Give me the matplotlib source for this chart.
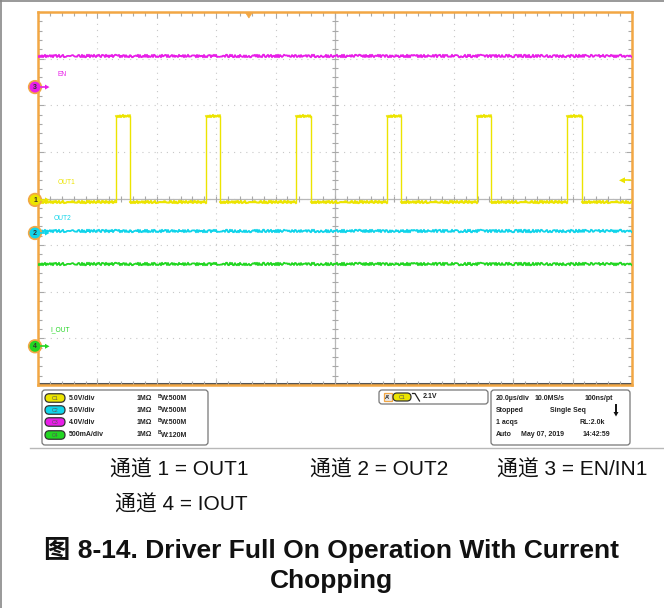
import matplotlib
matplotlib.use('Agg')
import matplotlib.pyplot as plt
from matplotlib.patches import FancyBboxPatch, Circle, Polygon, Rectangle
from matplotlib.ticker import MultipleLocator

# ---------------- data ----------------
time_range_us = [-100.0, 100.0]          # 10 div x 20 us/div
ch1_rise_us = [-73.7, -43.4, -13.1, 17.5, 47.8, 78.1]
ch1_fall_us = [-69.0, -38.7, -8.1, 22.2, 52.5, 83.2]
ch1_low_v = -0.2
ch1_high_v = 9.0
ch2_level_v = 0.25
ch3_level_v = 2.65
ch4_level_a = 0.88
channel_labels = ['OUT1', 'OUT2', 'EN', 'I_OUT']
channel_numbers = ['1', '2', '3', '4']
scale_per_div = [5.0, 5.0, 4.0, 0.5]
scale_labels = ['5.0V/div', '5.0V/div', '4.0V/div', '500mA/div']
bw_labels = ['500M', '500M', '500M', '120M']
offset_div = [-0.03, -0.74, 2.39, -3.17]
trigger_level_v = 2.1
trigger_time_us = -29.0
info_lines = [['20.0\u00b5s/div', '10.0MS/s', '100ns/pt'],
              ['Stopped', 'Single Seq'],
              ['1 acqs', 'RL:2.0k'],
              ['Auto', 'May 07, 2019', '14:42:59']]
caption_items = ['通道 1 = OUT1', '通道 2 = OUT2', '通道 3 = EN/IN1', '通道 4 = IOUT']
title_lines = ['图 8-14. Driver Full On Operation With Current', 'Chopping']

colors = ['#ece400', '#10d4ea', '#e81ee8', '#22d622']
orange = '#f2a744'

W, H = 664, 608
fig = plt.figure(figsize=(W / 100, H / 100), dpi=100)
fig.patch.set_facecolor('white')

# background axes in pixel coordinates
bg = fig.add_axes([0, 0, 1, 1], zorder=0)
bg.set_xlim(0, W)
bg.set_ylim(H, 0)
bg.axis('off')

# ---------------- scope screen ----------------
L, T, R, B = 38, 12, 632, 385
ax = fig.add_axes([L / W, 1 - B / H, (R - L) / W, (B - T) / H], zorder=1)
ax.set_xlim(*time_range_us)
ax.set_ylim(-4, 4)
for s in ax.spines.values():
    s.set_color(orange)
    s.set_linewidth(1.8)
ax.xaxis.set_major_locator(MultipleLocator(20))
ax.xaxis.set_minor_locator(MultipleLocator(4))
ax.yaxis.set_major_locator(MultipleLocator(1))
ax.yaxis.set_minor_locator(MultipleLocator(0.2))
ax.tick_params(which='both', direction='in', top=True, right=True,
               labelbottom=False, labelleft=False, color='#a8a8a8', width=0.8)
ax.tick_params(which='major', length=4)
ax.tick_params(which='minor', length=3)

# dotted graticule
for k in range(-4, 5):
    ax.axvline(k * 20, color='#c8c8c8', lw=0.8, ls=(0, (1, 4.5)), zorder=0)
for k in range(-3, 4):
    ax.axhline(k, color='#c8c8c8', lw=0.8, ls=(0, (1, 4.5)), zorder=0)
# centre cross with small ticks
ax.axhline(0, color='#b8b8b8', lw=0.9, zorder=0.5)
ax.axvline(0, color='#b8b8b8', lw=0.9, zorder=0.5)
xs = [i * 4 for i in range(-25, 26)]
ys = [i * 0.2 for i in range(-20, 21)]
ax.plot(xs, [0] * len(xs), ls='none', marker='|', ms=4, mew=0.8, color='#a8a8a8', zorder=0.5)
ax.plot([0] * len(ys), ys, ls='none', marker='_', ms=4, mew=0.8, color='#a8a8a8', zorder=0.5)
# dark bottom ruler
ax.axhline(-3.975, color='#555555', lw=2.2, zorder=0.6)

def to_div(v, ch):
    return v / scale_per_div[ch] + offset_div[ch]

# channel 1 : chopped output (clean edges, noisy flat parts)
t1 = [time_range_us[0]]
v1 = [ch1_low_v]
for r, f in zip(ch1_rise_us, ch1_fall_us):
    t1 += [r, r, f, f]
    v1 += [ch1_low_v, ch1_high_v, ch1_high_v, ch1_low_v]
t1.append(time_range_us[1])
v1.append(ch1_low_v)
ax.plot(t1, [to_div(x, 0) for x in v1], color=colors[0], lw=1.0, zorder=3)
for i in range(0, len(t1) - 1, 2):
    seg, = ax.plot(t1[i:i + 2], [to_div(x, 0) for x in v1[i:i + 2]],
                   color=colors[0], lw=1.3, zorder=3)
    seg.set_sketch_params(1.3, 2.0, 2.0)

traces = [
    (time_range_us, [ch2_level_v] * 2, 1),
    (time_range_us, [ch3_level_v] * 2, 2),
    (time_range_us, [ch4_level_a] * 2, 3),
]
for t, v, ch in traces:
    ln, = ax.plot(t, [to_div(x, ch) for x in v], color=colors[ch], lw=1.3, zorder=3)
    ln.set_sketch_params(1.3, 2.0, 2.0)

# overlay in pixel coordinates
ov = fig.add_axes([0, 0, 1, 1], zorder=5)
ov.set_xlim(0, W)
ov.set_ylim(H, 0)
ov.axis('off')
ov.patch.set_alpha(0)

# channel name labels on screen
label_pos = {0: (58, 182), 1: (54, 219), 2: (57, 75), 3: (50, 330)}
for ch, (x, y) in label_pos.items():
    ov.text(x, y, channel_labels[ch], color=colors[ch], fontsize=4.8,
            family='Liberation Sans', ha='left', va='center')

def y_px(div):
    return (T + B) / 2 - div * (B - T) / 8

# channel ground markers on the left edge
for ch in range(4):
    yy = y_px(offset_div[ch])
    ov.plot([41, 46], [yy, yy], color=colors[ch], lw=1.2)
    ov.add_patch(Polygon([[45, yy - 2.5], [49.5, yy], [45, yy + 2.5]], closed=True,
                         color=colors[ch], lw=0))
    ov.add_patch(Circle((35, yy), 6.3, facecolor=colors[ch], edgecolor=orange, lw=1.2))
    ov.text(35, yy + 0.3, channel_numbers[ch], fontsize=5, color='#333333',
            ha='center', va='center', family='Liberation Sans', fontweight='bold')

# trigger level marker (right) and trigger position (top)
ty = y_px(to_div(trigger_level_v, 0))
ov.add_patch(Polygon([[619, ty], [625, ty - 3], [625, ty + 3]], closed=True,
                     color=colors[0], lw=0))
ov.plot([625, 630], [ty, ty], color=colors[0], lw=1.2)
tx = L + (trigger_time_us - time_range_us[0]) / (time_range_us[1] - time_range_us[0]) * (R - L)
ov.add_patch(Polygon([[tx - 3.5, 12.5], [tx + 3.5, 12.5], [tx, 18]], closed=True,
                     facecolor=orange, edgecolor=orange, lw=0.5))

# ---------------- frame lines of the page ----------------
bg.plot([0, W], [0.8, 0.8], color='#888888', lw=1.2)
bg.plot([0.8, 0.8], [0, H], color='#888888', lw=1.2)
bg.plot([30, W], [448, 448], color='#b8b8b8', lw=1.0)

# ---------------- readout boxes ----------------
def rbox(x0, y0, x1, y1, r=3):
    bg.add_patch(FancyBboxPatch((x0, y0), x1 - x0, y1 - y0,
                                boxstyle='round,pad=0,rounding_size=%g' % r,
                                facecolor='white', edgecolor='#777777', lw=0.9))

def pill(cx, cy, ch, w=20, h=8.5):
    bg.add_patch(FancyBboxPatch((cx - w / 2, cy - h / 2), w, h,
                                boxstyle='round,pad=0,rounding_size=%g' % (h / 2),
                                facecolor=colors[ch], edgecolor='#333333', lw=0.9))
    bg.text(cx, cy + 0.3, 'C' + channel_numbers[ch], fontsize=3.8, color='#555555',
            ha='center', va='center', family='Liberation Sans')

txt = dict(fontsize=5, fontweight='bold', family='Liberation Sans', color='#222222',
           va='center')
rbox(42, 390, 208, 445)
row_y = [398, 410, 422, 435]
for i, ch in enumerate(range(4)):
    pill(55, row_y[i], ch)
    bg.text(69, row_y[i], scale_labels[ch], ha='left', **txt)
    bg.text(137, row_y[i], '1M\u03a9', ha='left', **txt)
    bg.text(157.5, row_y[i] - 2, 'B', ha='left', **dict(txt, fontsize=3.6))
    bg.text(161, row_y[i] + 0.8, 'W:' + bw_labels[ch], ha='left', **txt)

rbox(379, 390, 488, 404)
bg.add_patch(Rectangle((383.5, 393), 8, 8, facecolor='#e8e8e8', edgecolor=orange, lw=0.9))
bg.text(387.5, 397.2, "A'", ha='center', **dict(txt, fontsize=4))
pill(402, 397, 0, w=18, h=8)
bg.plot([412.5, 415, 419.5], [393.5, 393.5, 401], color='#222222', lw=0.9)
bg.text(423, 397, str(trigger_level_v) + 'V', ha='left', **txt)

rbox(491, 390, 630, 445)
bg.text(496, 398, info_lines[0][0], ha='left', **txt)
bg.text(535, 398, info_lines[0][1], ha='left', **txt)
bg.text(585, 398, info_lines[0][2], ha='left', **txt)
bg.text(496, 410.5, info_lines[1][0], ha='left', **txt)
bg.text(550, 410.5, info_lines[1][1], ha='left', **txt)
bg.plot([616, 616], [405, 413], color='#111111', lw=1.4)
bg.add_patch(Polygon([[613.5, 412], [618.5, 412], [616, 416.5]], closed=True, color='#111111', lw=0))
bg.text(496, 422.5, info_lines[2][0], ha='left', **txt)
bg.text(580, 422.5, info_lines[2][1], ha='left', **txt)
bg.text(496, 435, info_lines[3][0], ha='left', **txt)
bg.text(521, 435, info_lines[3][1], ha='left', **txt)
bg.text(583, 435, info_lines[3][2], ha='left', **txt)

# ---------------- captions ----------------
cap = dict(fontsize=15, family=['Liberation Sans', 'Noto Sans CJK SC'], color='#111111',
           va='center', ha='left')
bg.text(110, 470, caption_items[0], **cap)
bg.text(310, 470, caption_items[1], **cap)
bg.text(497, 470, caption_items[2], **cap)
bg.text(115, 505, caption_items[3], **cap)
ttl = dict(fontsize=19, fontweight='bold', family=['Liberation Sans', 'Noto Sans CJK SC'],
           color='#111111', va='center', ha='center')
bg.text(331, 550, title_lines[0], **ttl)
bg.text(331, 581, title_lines[1], **ttl)

fig.savefig('out.png', dpi=100, facecolor='white')
